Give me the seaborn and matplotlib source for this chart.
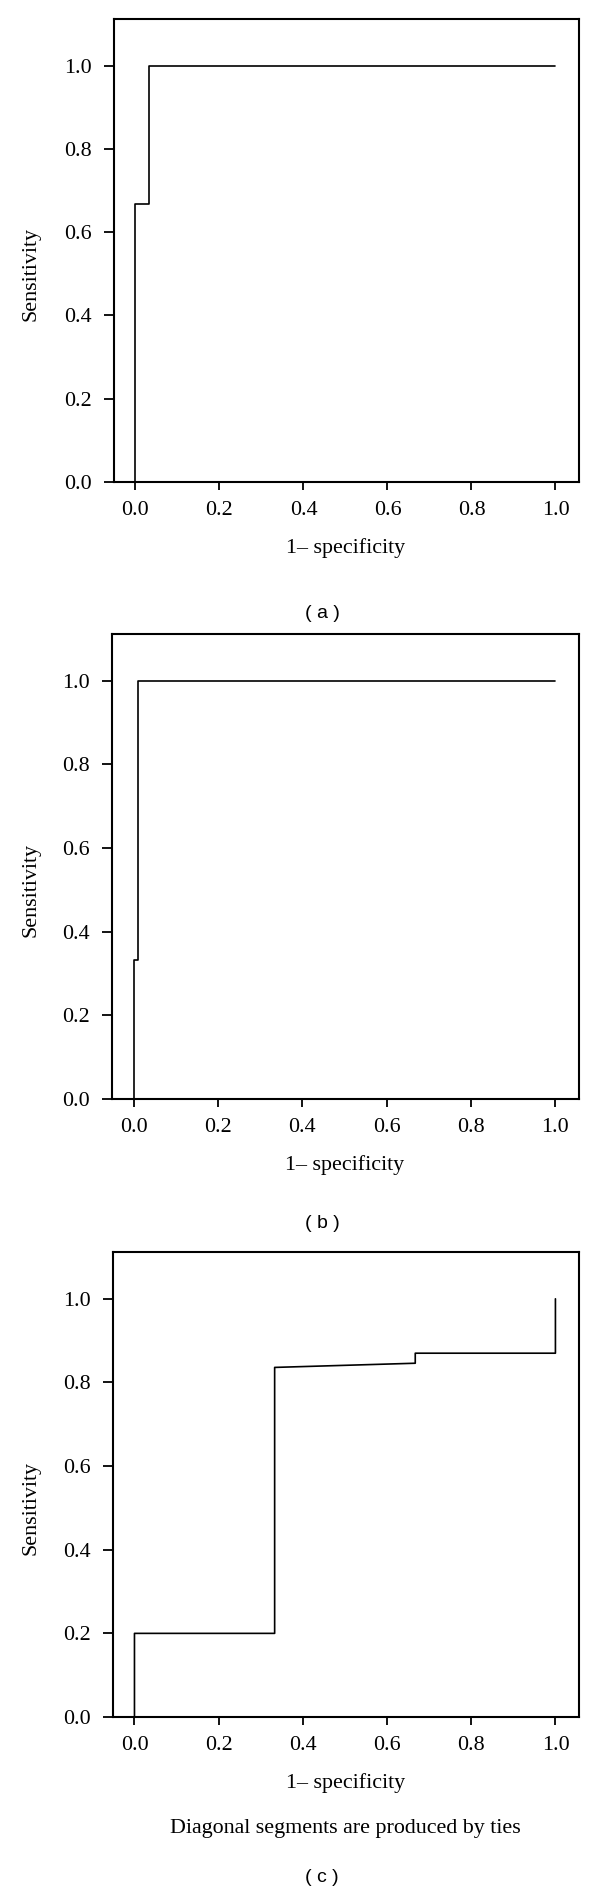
import matplotlib
matplotlib.use("Agg")
import matplotlib.pyplot as plt
import seaborn as sns
import numpy as np

# ROC curves (1 - specificity, sensitivity)
fpr_a = [0.0, 0.0, 0.033, 0.033, 1.0]
tpr_a = [0.0, 0.667, 0.667, 1.0, 1.0]

fpr_b = [0.0, 0.0, 0.010, 0.010, 1.0]
tpr_b = [0.0, 0.333, 0.333, 1.0, 1.0]

fpr_c = [0.0, 0.0, 0.333, 0.333, 0.667, 0.667, 1.0, 1.0]
tpr_c = [0.0, 0.200, 0.200, 0.836, 0.846, 0.870, 0.870, 1.0]

tick_vals = [0.0, 0.2, 0.4, 0.6, 0.8, 1.0]
tick_labels = ["0.0", "0.2", "0.4", "0.6", "0.8", "1.0"]
panel_tags = ["( a )", "( b )", "( c )"]
note_c = "Diagonal segments are produced by ties"

sns.set_theme(style="ticks")
plt.rcParams['font.family'] = ['Liberation Serif', 'DejaVu Serif']

W, H = 600, 1896
fs = 15.8
fig = plt.figure(figsize=(W / 100, H / 100), dpi=100)

# axes boxes in pixels: left, top, right, bottom
boxes = [(114, 19, 579, 482), (112, 634, 579, 1099), (113, 1252, 579, 1717)]
curves = [(fpr_a, tpr_a), (fpr_b, tpr_b), (fpr_c, tpr_c)]
tag_y = [614, 1223, 1877]

for i, ((l, t, r, b), (fx, ty)) in enumerate(zip(boxes, curves)):
    ax = fig.add_axes([l / W, 1 - b / H, (r - l) / W, (b - t) / H])
    sns.lineplot(x=fx, y=ty, sort=False, estimator=None, color="black",
                 linewidth=1.2, ax=ax)
    ax.set_xlim(-0.051, 1.056)
    ax.set_ylim(0, 1.112)
    ax.set_xticks(tick_vals)
    ax.set_xticklabels(tick_labels)
    ax.set_yticks(tick_vals)
    ax.set_yticklabels(tick_labels)
    ax.tick_params(axis="y", length=7, width=1.3, pad=9, labelsize=fs, colors="black")
    ax.tick_params(axis="x", length=5.5, width=1.3, pad=8, labelsize=fs, colors="black")
    for s in ax.spines.values():
        s.set_visible(True)
        s.set_linewidth(1.5)
        s.set_color("black")

    ax.set_xlabel("1\u2013 specificity", fontsize=fs, color="black")
    ax.xaxis.set_label_coords(0.498, -66 / (b - t))
    ax.xaxis.label.set_va("center")
    ax.set_ylabel("Sensitivity", fontsize=fs, color="black")
    ax.yaxis.set_label_coords(-(l - 31) / (r - l), 0.5 / 1.112)
    ax.yaxis.label.set_va("center")

    if i == 2:
        fig.text(345 / W, 1 - 1828 / H, note_c, ha="center", va="center",
                 fontsize=fs, color="black")
    fig.text(322 / W, 1 - tag_y[i] / H, panel_tags[i], ha="center", va="center",
             fontsize=14, color="black", family=["Liberation Sans", "DejaVu Sans"])

fig.savefig("out.png", dpi=100, facecolor="white")
